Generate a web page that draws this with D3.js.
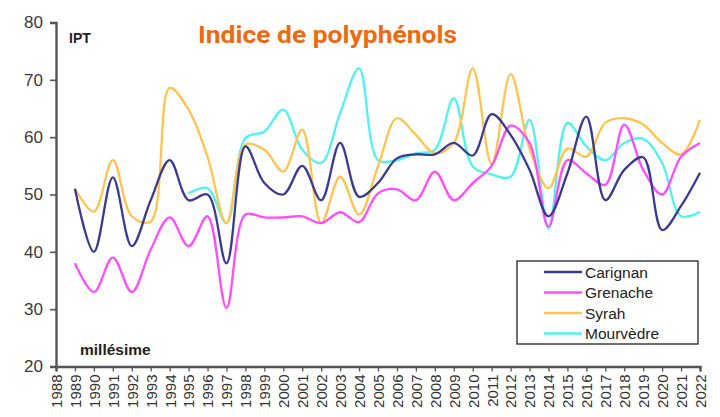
<!DOCTYPE html>
<html>
<head>
<meta charset="utf-8">
<script src="https://cdn.jsdelivr.net/npm/d3@7"></script>
<style>
  html, body { margin: 0; padding: 0; background: #fff; }
  svg { display: block; }
</style>
</head>
<body>
<svg id="chart" width="720" height="417"></svg>
<script>
// Polyphenol index (IPT) by vintage for four grape varieties
const years = d3.range(1989, 2023);
const carignan = [51, 40, 53, 41, 49, 56, 49, 50, 38, 58.4, 52, 50, 55, 49, 59, 49.6, 52, 56.3, 57, 57, 59, 56.8, 64, 60.4, 54.3, 46.2, 53.7, 63.6, 49, 54.3, 56.5, 43.8, 48, 53.8];
const grenache = [38, 33, 39, 33, 40.4, 46, 41, 46.2, 30.2, 46.5, 46, 46, 46.2, 45, 46.9, 45.2, 50.2, 50.9, 49, 54, 49, 52, 55, 62, 59, 44.4, 56, 53.7, 51.7, 62.2, 54.3, 50, 56.6, 59];
const syrah = [51, 47, 56, 46.2, 45.3, 68.6, 64.8, 56.6, 45, 58.7, 57.8, 54, 61.3, 45, 53.1, 46.5, 54.9, 63.3, 60.4, 57.2, 59, 72, 55.3, 71, 58, 51.1, 58, 56.6, 62.5, 63.3, 62.2, 59, 57, 63];
const mourvedreYears = d3.range(1995, 2023);
const mourvedre = [50.2, 51.1, 45, 59.8, 61, 64.8, 57.8, 55.5, 64.2, 72, 56, 56, 57.2, 57.8, 66.8, 54.9, 53.5, 53.1, 63, 44.1, 62.5, 58.4, 56, 59, 59.7, 55.5, 46.2, 47];
const yTicks = [20, 30, 40, 50, 60, 70, 80];
const xTicks = d3.range(1988, 2023);

const seriesNames = ["Carignan", "Grenache", "Syrah", "Mourvèdre"];
const seriesColors = ["#3b3b92", "#ff4cff", "#ffc44f", "#52f2f2"];

const series = [
  { name: seriesNames[0], color: seriesColors[0], pts: years.map((y, i) => [y, carignan[i]]) },
  { name: seriesNames[1], color: seriesColors[1], pts: years.map((y, i) => [y, grenache[i]]) },
  { name: seriesNames[2], color: seriesColors[2], pts: years.map((y, i) => [y, syrah[i]]) },
  { name: seriesNames[3], color: seriesColors[3], pts: mourvedreYears.map((y, i) => [y, mourvedre[i]]) }
];

const svg = d3.select("#chart");
const x = d3.scaleLinear().domain([1988, 2022]).range([56, 700]);
const y = d3.scaleLinear().domain([20, 80]).range([366.5, 22.5]);

const axisColor = "#555";
const font = "'Liberation Sans', Arial, sans-serif";

// Smoothed lines
const line = d3.line()
  .x(d => x(d[0]))
  .y(d => y(d[1]))
  .curve(d3.curveCatmullRom.alpha(0.5));

const drawOrder = [3, 2, 1, 0];
svg.append("g").selectAll("path")
  .data(drawOrder.map(i => series[i]))
  .join("path")
  .attr("d", d => line(d.pts))
  .attr("fill", "none")
  .attr("stroke", d => d.color)
  .attr("stroke-width", 2.3)
  .attr("stroke-linejoin", "round");

// Y axis
const yAxis = svg.append("g")
  .attr("transform", "translate(56,0)")
  .call(d3.axisLeft(y).tickValues(yTicks).tickSize(6).tickPadding(7));
yAxis.select(".domain").attr("stroke", axisColor).attr("stroke-width", 2.4);
yAxis.selectAll(".tick line").attr("stroke", axisColor).attr("stroke-width", 1.6);
yAxis.selectAll(".tick text")
  .attr("font-family", font).attr("font-size", 17).attr("fill", "#3a3a3a");

// X axis
const xAxis = svg.append("g")
  .attr("transform", "translate(0,366.5)")
  .call(d3.axisBottom(x).tickValues(xTicks).tickFormat(d3.format("d")).tickSize(5).tickPadding(4));
xAxis.select(".domain").attr("stroke", axisColor).attr("stroke-width", 2.4);
xAxis.selectAll(".tick line").attr("stroke", axisColor).attr("stroke-width", 1.3);
xAxis.selectAll(".tick text")
  .attr("font-family", font).attr("font-size", 15).attr("fill", "#333")
  .attr("transform", "rotate(-90)")
  .attr("text-anchor", "end")
  .attr("x", -8).attr("y", 0).attr("dy", "0.36em");

// Title and axis captions
svg.append("text")
  .attr("x", 198).attr("y", 43)
  .attr("font-family", "Roboto, sans-serif")
  .attr("font-weight", "bold")
  .attr("font-size", 24)
  .attr("textLength", 259)
  .attr("lengthAdjust", "spacingAndGlyphs")
  .attr("fill", "#ec6b12")
  .text("Indice de polyphénols");

svg.append("text")
  .attr("x", 69).attr("y", 43)
  .attr("font-family", font).attr("font-weight", "bold")
  .attr("font-size", 14).attr("fill", "#222")
  .text("IPT");

svg.append("text")
  .attr("x", 80).attr("y", 355)
  .attr("font-family", font).attr("font-weight", "bold")
  .attr("font-size", 15.5).attr("fill", "#222")
  .text("millésime");

// Legend
const legend = svg.append("g");
legend.append("rect")
  .attr("x", 517).attr("y", 261).attr("width", 181).attr("height", 83)
  .attr("fill", "#fff").attr("stroke", "#333").attr("stroke-width", 1.4);
const rows = legend.selectAll("g.row").data(series).join("g")
  .attr("class", "row")
  .attr("transform", (d, i) => `translate(0,${272 + i * 20.5})`);
rows.append("line")
  .attr("x1", 544).attr("x2", 582).attr("y1", 0).attr("y2", 0)
  .attr("stroke", d => d.color).attr("stroke-width", 2.6);
rows.append("text")
  .attr("x", 585).attr("y", 0).attr("dy", "0.36em")
  .attr("font-family", font).attr("font-size", 15.5).attr("fill", "#222")
  .text(d => d.name);
</script>
</body>
</html>
